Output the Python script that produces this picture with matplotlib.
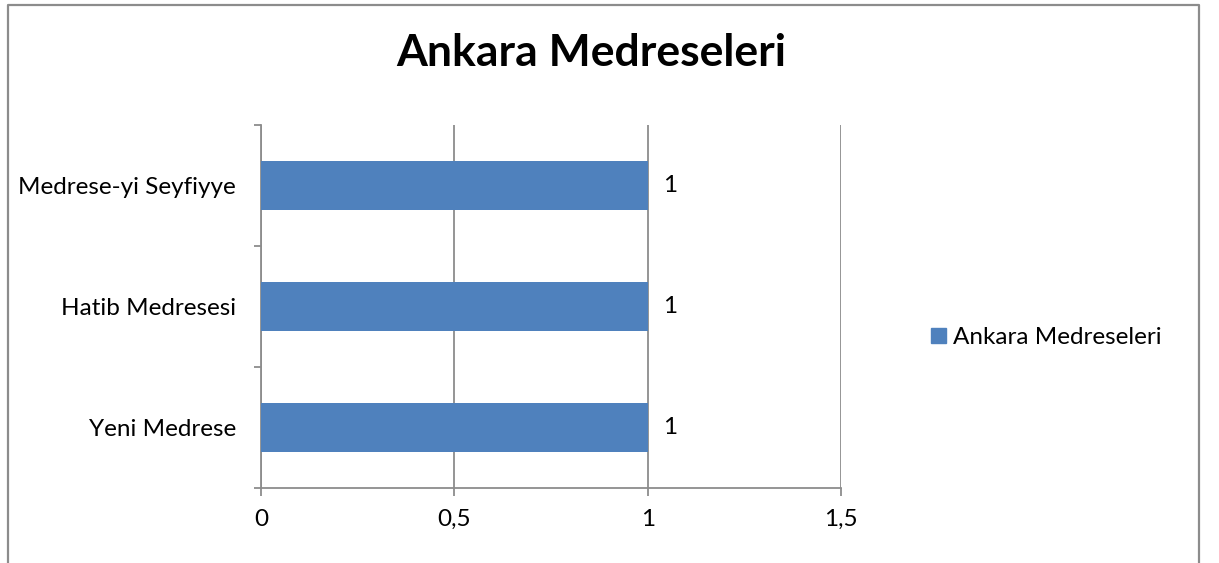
import matplotlib
matplotlib.use("Agg")
import matplotlib.pyplot as plt
from matplotlib.lines import Line2D
from matplotlib.patches import Patch

plt.rcParams['font.family'] = ['Lato', 'DejaVu Sans']

categories = ['Yeni Medrese', 'Hatib Medresesi', 'Medrese-yi Seyfiyye']
values = [1, 1, 1]
series_name = 'Ankara Medreseleri'
xticks = [0, 0.5, 1, 1.5]
xtick_labels = ['0', '0,5', '1', '1,5']

bar_color = '#4F81BD'
grid_color = '#8c8c8c'
fs = 17.5

fig = plt.figure(figsize=(12.19, 5.63), dpi=100)

# outer chart border (bottom edge is cut off in the original)
fig.add_artist(Line2D([0.0066, 0.0066, 0.9836, 0.9836], [0.0, 0.9911, 0.9911, 0.0],
                      transform=fig.transFigure, color='#8c8c8c', lw=1.6))

ax = fig.add_axes([0.2141, 0.1332, 0.4758, 0.6448])
ypos = range(len(categories))
ax.barh(ypos, values, height=0.4, color=bar_color, zorder=3)

for y, v in zip(ypos, values):
    ax.text(v + 0.04, y, str(v), va='center', ha='left', fontsize=fs)

ax.set_xlim(0, 1.5)
ax.set_ylim(-0.5, len(categories) - 0.5)
ax.set_xticks(xticks)
ax.set_xticklabels(xtick_labels, fontsize=fs)
ax.set_yticks(list(ypos))
ax.set_yticklabels(categories, fontsize=fs)
ax.set_yticks([-0.5 + i for i in range(len(categories) + 1)], minor=True)
ax.tick_params(axis='y', which='major', length=0, pad=18)
ax.tick_params(axis='y', which='minor', length=5, color=grid_color, width=1.3)
ax.tick_params(axis='x', length=6, color=grid_color, width=1.3, pad=9)
ax.xaxis.grid(True, color=grid_color, lw=1.3, zorder=0)

for s in ['top', 'right']:
    ax.spines[s].set_visible(False)
for s in ['left', 'bottom']:
    ax.spines[s].set_color(grid_color)
    ax.spines[s].set_linewidth(1.3)

fig.text(0.485, 0.905, series_name, ha='center', va='center', fontsize=32, fontweight='bold')

fig.legend(handles=[Patch(color=bar_color, label=series_name)], loc='center left',
           bbox_to_anchor=(0.746, 0.4), frameon=False, fontsize=fs,
           handlelength=0.6, handleheight=0.6, handletextpad=0.3)

fig.savefig('out.png', dpi=100)
